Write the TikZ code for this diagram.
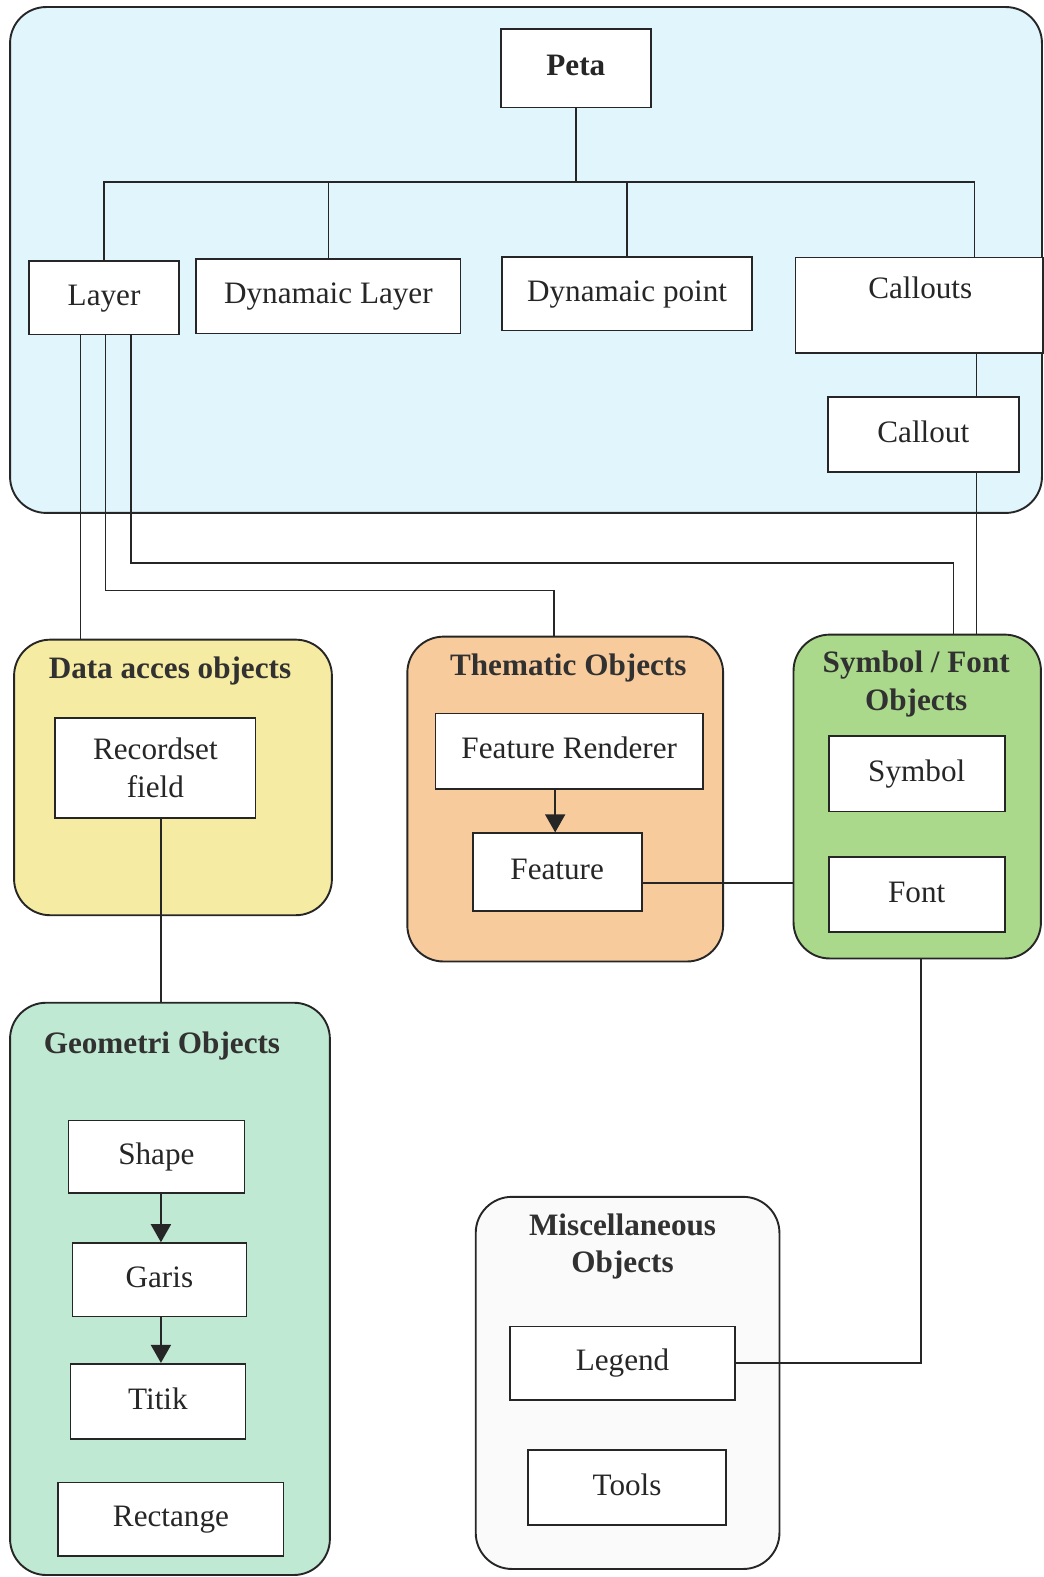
\documentclass[tikz,border=0pt]{standalone}
\usepackage{fontspec}
\setmainfont{Liberation Serif}
\usetikzlibrary{arrows.meta}
\definecolor{petabg}{HTML}{E0F6FC}
\definecolor{databg}{HTML}{F6EBA3}
\definecolor{themebg}{HTML}{F8CB9C}
\definecolor{symbg}{HTML}{ABD98B}
\definecolor{geombg}{HTML}{C0E9D3}
\definecolor{miscbg}{HTML}{FAFAFA}
\definecolor{ink}{HTML}{262626}
\begin{document}
\begin{tikzpicture}[x=1pt,y=-1pt,
  every node/.style={font=\fontsize{31}{37}\selectfont, text=ink},
  item/.style={draw=ink, line width=1.7pt, fill=white, inner sep=0pt, align=center},
  oneline/.style={text height=22pt, text depth=7pt},
  group/.style={draw=ink, line width=1.9pt, rounded corners=36pt, inner sep=0pt},
  heading/.style={font=\fontsize{31}{37}\selectfont\bfseries, text=ink!95, align=center},
  link/.style={draw=ink, line width=1.6pt},
  flow/.style={link, -{Triangle[width=20pt,length=18pt]}}]
\useasboundingbox (0,0) rectangle (1038,1568);

% ---- group panels ----
\node[group, fill=petabg, minimum width=1026pt, minimum height=503pt] (petaarea) at (523,258.5) {};
\node[group, fill=databg, minimum width=316pt, minimum height=274pt] (data) at (172,773) {};
\node[group, fill=themebg, minimum width=314pt, minimum height=323pt] (thematic) at (562,794.5) {};
\node[group, fill=symbg, minimum width=246pt, minimum height=322pt] (symfont) at (912,792) {};
\node[group, fill=geombg, minimum width=318pt, minimum height=569pt] (geometri) at (169,1281.5) {};
\node[group, fill=miscbg, minimum width=302pt, minimum height=370pt] (misc) at (624,1375) {};

% ---- group headings ----
\node[heading] (datatitle) at (169,667) {Data acces objects};
\node[heading] (themetitle) at (565,664) {Thematic Objects};
\node[heading] (symtitle) at (911,680) {Symbol / Font\\Objects};
\node[heading] (geomtitle) at (161,1040) {Geometri Objects};
\node[heading] (misctitle) at (619,1239) {Miscellaneous\\Objects};

% ---- top level ----
\node[item, oneline, minimum width=149pt, minimum height=78pt, font=\fontsize{31}{37}\selectfont\bfseries] (peta) at (572.5,68) {Peta};
\node[item, oneline, minimum width=149pt, minimum height=73pt] (layer) at (103.5,296) {Layer};
\node[item, oneline, minimum width=263pt, minimum height=74pt] (dynlayer) at (326.5,294.5) {Dynamaic Layer};
\node[item, oneline, minimum width=249pt, minimum height=73pt] (dynpoint) at (623.5,292) {Dynamaic point};
\node[item, minimum width=246pt, minimum height=95pt] (callouts) at (914,303.5) {};
\node[oneline, inner sep=0pt] (calloutstext) at (915,289) {Callouts};
\node[item, oneline, minimum width=190pt, minimum height=74pt] (callout) at (918,432) {Callout};

% ---- inner items ----
\node[item, minimum width=199pt, minimum height=99pt] (recordset) at (154.5,763.5) {Recordset\\field};
\node[item, oneline, minimum width=266pt, minimum height=75pt] (renderer) at (566,747) {Feature Renderer};
\node[item, oneline, minimum width=168pt, minimum height=77pt] (feature) at (554,867) {Feature};
\node[item, oneline, minimum width=175pt, minimum height=75pt] (symbol) at (911.5,769.5) {Symbol};
\node[item, oneline, minimum width=175pt, minimum height=75pt] (font) at (911.5,889.5) {Font};
\node[item, oneline, minimum width=175pt, minimum height=72pt] (shape) at (155.5,1150) {Shape};
\node[item, oneline, minimum width=173pt, minimum height=73pt] (garis) at (158.5,1272.5) {Garis};
\node[item, oneline, minimum width=174pt, minimum height=75pt] (titik) at (157,1393.5) {Titik};
\node[item, oneline, minimum width=224pt, minimum height=73pt] (rectange) at (170,1510.5) {Rectange};
\node[item, oneline, minimum width=224pt, minimum height=73pt] (legend) at (619,1355.5) {Legend};
\node[item, oneline, minimum width=197pt, minimum height=74pt] (tools) at (623.5,1479) {Tools};

% ---- routing coordinates ----
\coordinate (bus) at (0,181);
\coordinate (cdrop) at (969,0);
\coordinate (cline) at (971,0);
\coordinate (l1) at (80,0);
\coordinate (l2) at (105,0);
\coordinate (l3) at (130,0);
\coordinate (r2) at (551,587);
\coordinate (r3) at (948,560);
\coordinate (g1) at (160,0);
\coordinate (a1) at (552,0);
\coordinate (f1) at (0,878);
\coordinate (s1) at (916,0);

% ---- connectors ----
\draw[link] (peta.south) -- (peta.south |- bus) -| (layer.north);
\draw[link] (peta.south |- bus) -| (dynlayer.north);
\draw[link] (peta.south |- bus) -| (dynpoint.north);
\draw[link] (peta.south |- bus) -| (callouts.north -| cdrop);
\draw[link] (callouts.south -| cline) -- (callout.north -| cline);
\draw[link] (callout.south -| cline) -- (symfont.north -| cline);

\draw[link] (layer.south -| l1) -- (data.north -| l1);
\draw[link] (layer.south -| l2) |- (r2) -- (thematic.north -| r2);
\draw[link] (layer.south -| l3) |- (r3) -- (symfont.north -| r3);

\draw[link] (recordset.south -| g1) -- (geometri.north -| g1);
\draw[flow] (renderer.south -| a1) -- (feature.north -| a1);
\draw[link] (feature.east |- f1) -- (symfont.west |- f1);
\draw[link] (symfont.south -| s1) |- (legend.east);

\draw[flow] (shape.south -| g1) -- (garis.north -| g1);
\draw[flow] (garis.south -| g1) -- (titik.north -| g1);
\end{tikzpicture}
\end{document}
